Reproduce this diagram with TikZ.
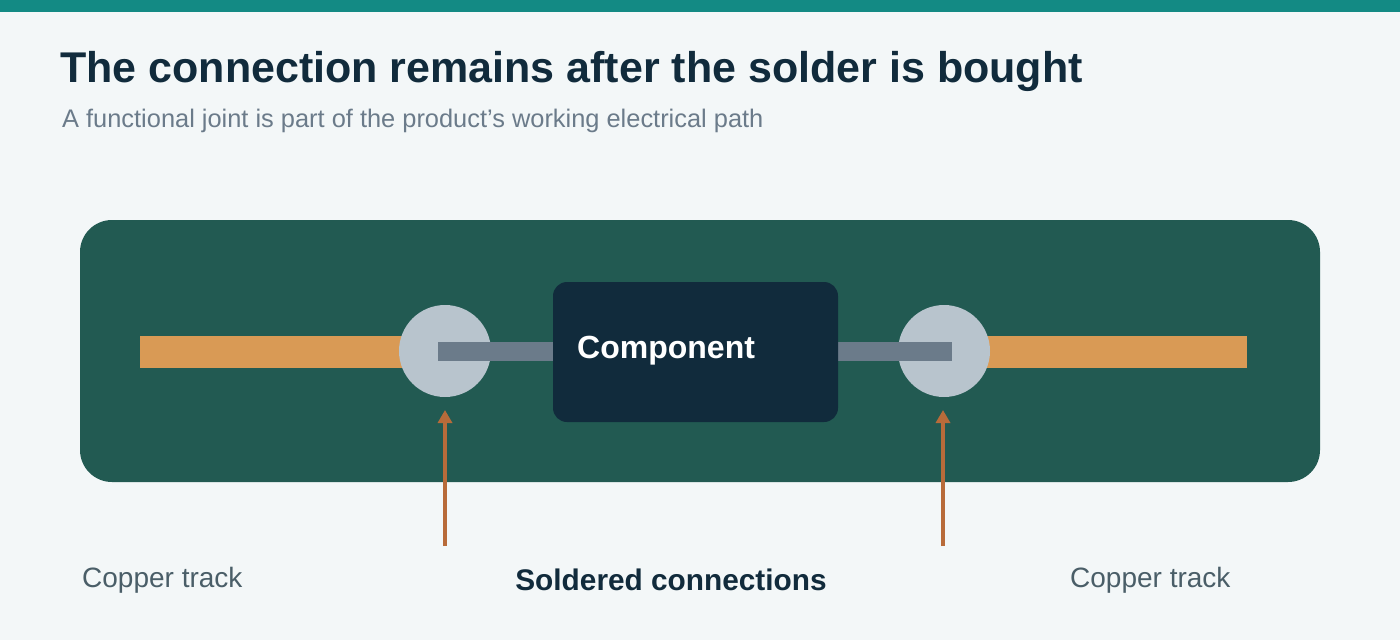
\documentclass[tikz,border=0pt]{standalone}
\usepackage{fontspec}
\setmainfont{Liberation Sans}
\usetikzlibrary{arrows.meta}
\definecolor{bg}{HTML}{F3F7F8}
\definecolor{teal}{HTML}{138A84}
\definecolor{board}{HTML}{225A52}
\definecolor{copper}{HTML}{D99A55}
\definecolor{pad}{HTML}{B8C4CD}
\definecolor{lead}{HTML}{6B7B8A}
\definecolor{comp}{HTML}{112B3C}
\definecolor{arr}{HTML}{B86B3A}
\definecolor{sub}{HTML}{6B7B8A}
\definecolor{lbl}{HTML}{4A5E68}
\begin{document}
\begin{tikzpicture}[x=1pt,y=-1pt,
  track/.style={fill=copper,draw=none},
  padc/.style={circle,fill=pad,minimum size=92pt,inner sep=0},
  leadr/.style={fill=lead,draw=none},
  arrow/.style={draw=arr,line width=4pt,-{Triangle[length=13pt,width=14pt]}},
  lab/.style={anchor=base west,text=lbl,font=\fontsize{28}{32}\selectfont}]
\fill[bg] (0,0) rectangle (1400,640);
\useasboundingbox (0,0) rectangle (1400,640);
\fill[teal] (0,0) rectangle (1400,12);
\node[anchor=base west,inner sep=0,text=comp,font=\fontsize{43}{50}\selectfont\bfseries] (title) at (60,82) {The connection remains after the solder is bought};
\node[anchor=base west,inner sep=0,text=sub,font=\fontsize{25.4}{30}\selectfont] (subtitle) at (62,127) {A functional joint is part of the product’s working electrical path};
\fill[board,rounded corners=32pt] (80,220) rectangle (1320,482);
\fill[track] (140,336) rectangle (420,368);
\fill[track] (960,336) rectangle (1247,368);
\node[padc] (p1) at (445,351) {};
\node[padc] (p2) at (944,351) {};
\fill[leadr] (438,342) rectangle (556,361);
\fill[leadr] (836,342) rectangle (952,361);
\fill[comp,rounded corners=14pt] (553,282) rectangle (838,422);
\node[anchor=base west,inner sep=0,text=white,font=\fontsize{32}{38}\selectfont\bfseries] (cl) at (577,358) {Component};
\coordinate (a1) at (445,546);
\coordinate (a2) at (943,546);
\draw[arrow] (a1) -- (445,410);
\draw[arrow] (a2) -- (943,410);
\node[lab,inner sep=0] (ct1) at (82,587) {Copper track};
\node[lab,inner sep=0] (ct2) at (1070,587) {Copper track};
\node[anchor=base,inner sep=0,text=comp,font=\fontsize{29.8}{34}\selectfont\bfseries] (sc) at (671,590) {Soldered connections};
\end{tikzpicture}
\end{document}
